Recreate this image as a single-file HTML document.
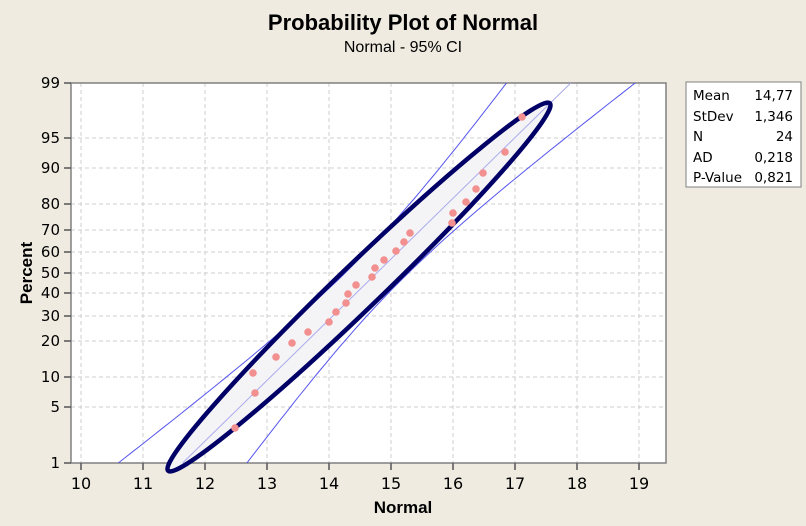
<!DOCTYPE html>
<html><head><meta charset="utf-8"><style>
html,body{margin:0;padding:0;background:#efebe1;}
body{width:806px;height:522px;overflow:hidden;font-family:"DejaVu Sans","Liberation Sans",sans-serif;}
</style></head><body>
<svg id="s" width="806" height="522" xmlns="http://www.w3.org/2000/svg">
<rect x="0" y="0" width="806" height="522" fill="#efebe1"/>
<text x="403" y="30" text-anchor="middle" font-family="Liberation Sans,sans-serif" font-weight="bold" font-size="22" fill="#000">Probability Plot of Normal</text>
<text x="403" y="52" text-anchor="middle" font-family="Liberation Sans,sans-serif" font-size="16" fill="#000">Normal - 95% CI</text>
<defs><clipPath id="c"><rect x="71" y="83" width="595" height="380"/></clipPath></defs>
<rect x="71" y="83" width="595" height="380" fill="#fff"/>
<g id="grid" stroke="#cfcfcf" stroke-dasharray="4,3" stroke-width="1"></g>
<rect x="71" y="83" width="595" height="380" fill="none" stroke="#808080" stroke-width="1.5"/>
<g id="top"></g>
<g id="ax" font-size="15" fill="#000"></g>
<text x="403" y="513" text-anchor="middle" font-family="Liberation Sans,sans-serif" font-weight="bold" font-size="17">Normal</text>
<text transform="translate(32,273) rotate(-90)" text-anchor="middle" font-family="Liberation Sans,sans-serif" font-weight="bold" font-size="17">Percent</text>
<rect x="686" y="82" width="115" height="105" fill="#fff" stroke="#808080" stroke-width="1"/>
<g font-size="13.5" fill="#000">
<text x="693" y="100">Mean</text><text x="793" y="100" text-anchor="end">14,77</text>
<text x="693" y="121">StDev</text><text x="793" y="121" text-anchor="end">1,346</text>
<text x="693" y="141">N</text><text x="793" y="141" text-anchor="end">24</text>
<text x="693" y="162">AD</text><text x="793" y="162" text-anchor="end">0,218</text>
<text x="693" y="182">P-Value</text><text x="793" y="182" text-anchor="end">0,821</text>
</g>
</svg>
<script>
var NS="http://www.w3.org/2000/svg";
function el(p,t,a,txt){var e=document.createElementNS(NS,t);for(var k in a)e.setAttribute(k,a[k]);if(txt!==undefined)e.textContent=txt;document.getElementById(p).appendChild(e);return e;}
var yt=[[99,83],[95,138],[90,168],[80,204],[70,230],[60,252],[50,273],[40,293],[30,316],[20,341],[10,377],[5,407],[1,463]];
yt.forEach(function(t){ if(t[0]!=99&&t[0]!=1) el("grid","line",{x1:71,x2:666,y1:t[1],y2:t[1]});
 el("ax","line",{x1:64,x2:71,y1:t[1],y2:t[1],stroke:"#555","stroke-width":1.5});
 el("ax","text",{x:60,y:t[1]+5,"text-anchor":"end"},t[0]);});
for(var i=10;i<=19;i++){var x=81+(i-10)*62;el("grid","line",{x1:x,x2:x,y1:83,y2:463});
 el("ax","line",{x1:x,x2:x,y1:463,y2:470,stroke:"#555","stroke-width":1.5});
 el("ax","text",{x:x,y:489,"text-anchor":"middle","font-size":"16"},i);}
var k=81.7,cx=376.7,sx=83.45;
function X(z){return cx+sx*z}function Y(z){return 273-k*z}
var L="",R="";
for(var z=-3;z<=3.01;z+=0.1){var w=Math.sqrt(1000+580*z*z);
 L+=(L?"L":"M")+(X(z)-w).toFixed(1)+","+Y(z).toFixed(1);
 R+=(R?"L":"M")+(X(z)+w).toFixed(1)+","+Y(z).toFixed(1);}
var E={cx:359,cy:287,rx:265,ry:22,transform:"rotate(-43.9 359 287)"};
el("top","ellipse",Object.assign({fill:"#f4f4f6",stroke:"none"},E));
el("top","line",{x1:X(-2.326),y1:Y(-2.326),x2:X(2.326),y2:Y(2.326),stroke:"#aaaaee","stroke-width":1});
el("top","path",{d:L,fill:"none",stroke:"#5555ee","stroke-width":1,"clip-path":"url(#c)"});
el("top","path",{d:R,fill:"none",stroke:"#5555ee","stroke-width":1,"clip-path":"url(#c)"});
el("top","ellipse",Object.assign({fill:"none",stroke:"#000066","stroke-width":4.5},E));
var pts=[[235,428],[255,393],[253,373],[276,357],[292,343],[308,332],[329,322],[336,312],[346,303],[348,294],[356,285],[372,277],[375,268],[384,260],[396,251],[404,242],[410,233],[452,223],[453,213],[466,202],[476,189],[483,173],[505,152],[522,117]];
pts.forEach(function(p){el("top","circle",{cx:p[0],cy:p[1],r:3.8,fill:"#f29090"});});
</script>
</body></html>
